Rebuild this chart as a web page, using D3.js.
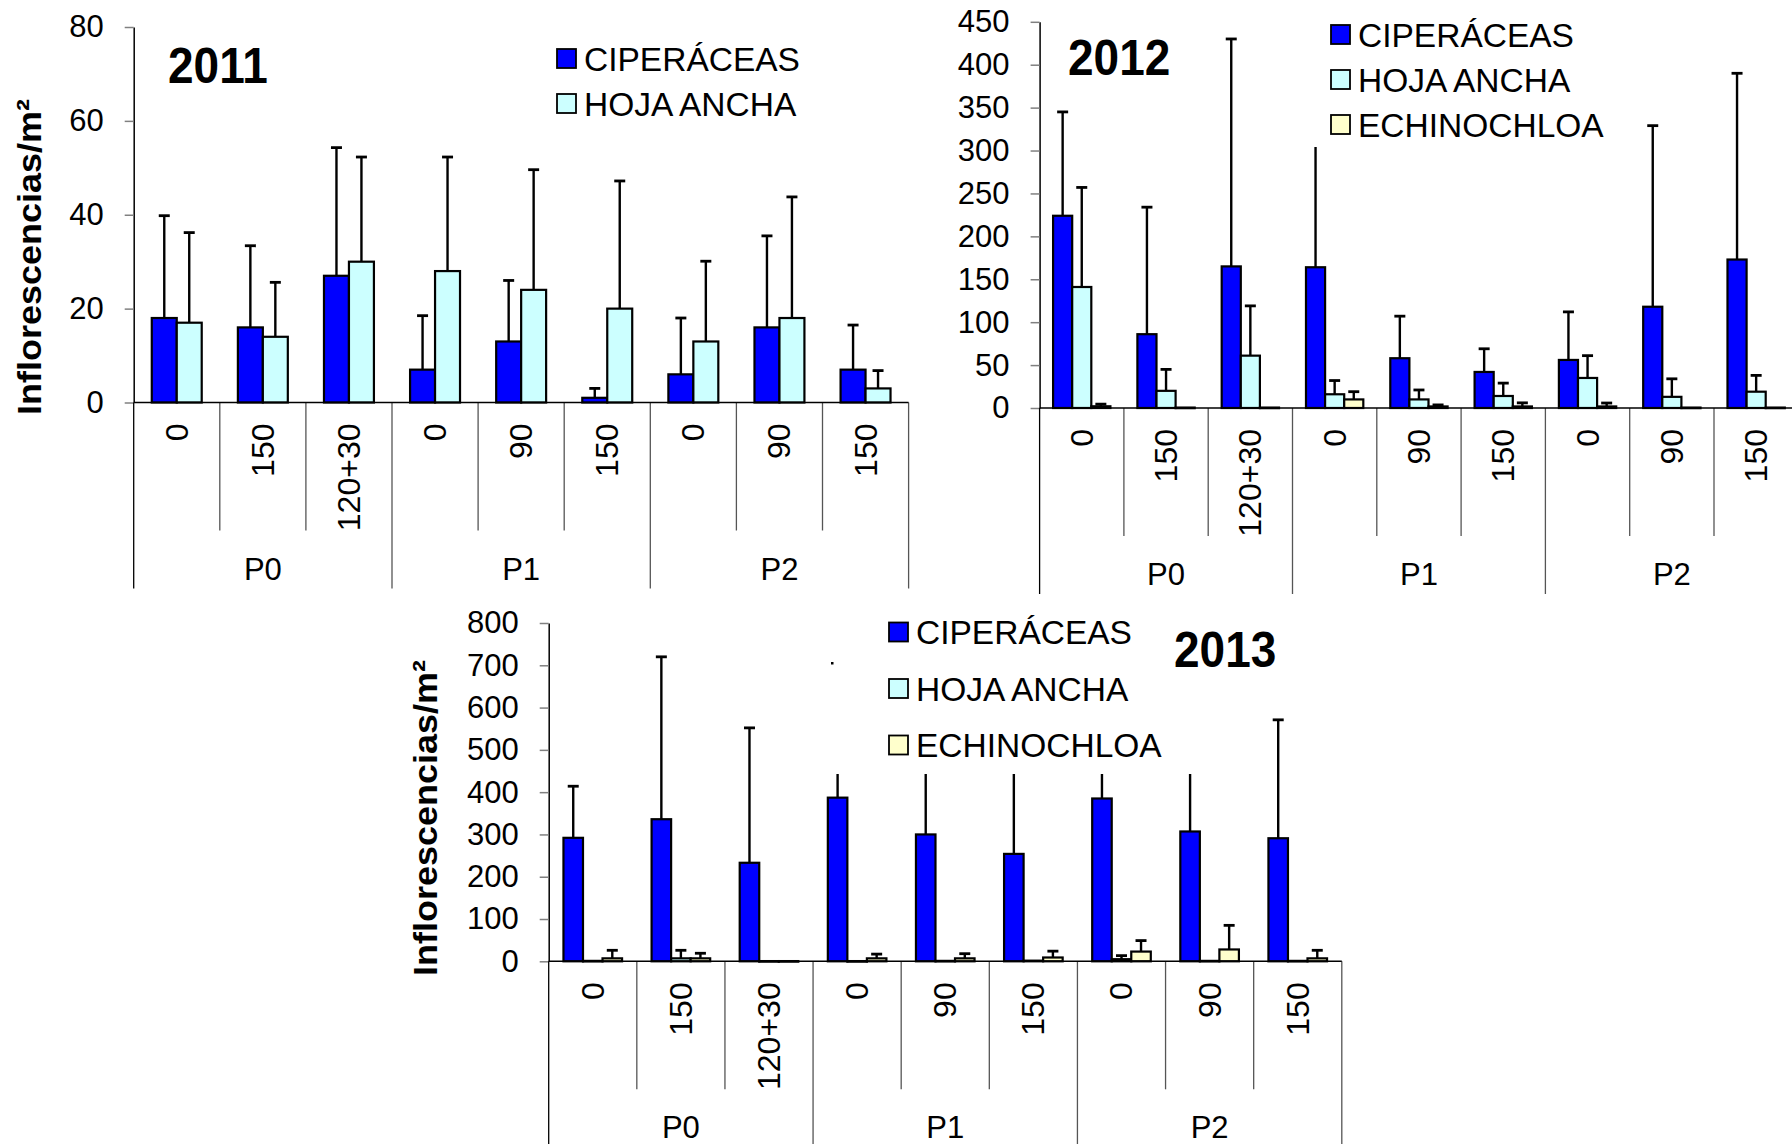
<!DOCTYPE html>
<html>
<head>
<meta charset="utf-8">
<script src="https://cdn.jsdelivr.net/npm/d3@7"></script>
<style>
  body { margin: 0; background: #fff; }
  text { font-family: "Liberation Sans", Arial, sans-serif; fill: #000; }
</style>
</head>
<body>
<svg id="canvas" width="1792" height="1144"></svg>
<script>
// categories (same for all three years)
let categories = ['0', '150', '120+30', '0', '90', '150', '0', '90', '150']
let groups = ['P0', 'P1', 'P2']
let seriesNames = ['CIPERÁCEAS', 'HOJA ANCHA', 'ECHINOCHLOA']
let seriesColors = ['#0000ff', '#ccffff', '#ffffcc']

// 2011 (mean and top of error bar)
let cip2011 = [18, 16, 27, 7, 13, 1, 6, 16, 7]
let cip2011Up = [39.8, 33.4, 54.3, 18.5, 26, 3, 18, 35.5, 16.5]
let ha2011 = [17, 14, 30, 28, 24, 20, 13, 18, 3]
let ha2011Up = [36.2, 25.6, 52.3, 52.3, 49.6, 47.2, 30.1, 43.8, 6.8]

// 2012
let cip2012 = [224, 86, 165, 164, 58, 42, 56, 118, 173]
let cip2012Up = [345, 234, 430, 360, 107, 69, 112, 329, 390]
let ha2012 = [141, 20, 61, 16, 10, 14, 35, 13, 19]
let ha2012Up = [257, 45, 119, 32, 21, 29, 61, 34, 38]
let ech2012 = [2, 0.5, 0.5, 10, 1.8, 1.8, 1.8, 0.5, 0.5]
let ech2012Up = [4.5, 0, 0, 19, 3.6, 6, 5.8, 0, 0]

// 2013
let cip2013 = [292, 336, 233, 387, 300, 254, 385, 307, 291]
let cip2013Up = [414, 720, 552, 560, 520, 600, 550, 500, 571]
let ha2013 = [1, 7, 0.5, 0.5, 1, 1.5, 5, 1, 1]
let ha2013Up = [0, 26, 0, 0, 0, 0, 13.4, 0, 0]
let ech2013 = [7, 7, 0.5, 7, 7, 9, 23, 28, 7]
let ech2013Up = [26, 19, 0, 17, 18, 24, 49, 85, 26]

let svg = d3.select('#canvas')

let drawPanel = (p) => {
  let g = svg.append('g')
  let n = p.series.length

  let x = d3.scaleBand()
    .domain(d3.range(categories.length))
    .range([p.left, p.right])
    .padding(0)
  let inner = d3.scaleBand()
    .domain(d3.range(n))
    .range([0, x.bandwidth()])
    .paddingInner(0)
    .paddingOuter(p.outer)
  let y = d3.scaleLinear().domain([0, p.max]).range([p.bottom, p.top])

  // y axis
  let yAxis = g.append('g')
    .attr('transform', 'translate(' + p.left + ',0)')
    .call(d3.axisLeft(y)
      .tickValues(d3.range(0, p.max + 1, p.step))
      .tickSize(9)
      .tickSizeOuter(0)
      .tickPadding(21))
  yAxis.select('.domain').attr('stroke', '#000').attr('stroke-width', 1.5)
  yAxis.selectAll('.tick line').attr('stroke', '#808080').attr('stroke-width', 1.5)
  yAxis.selectAll('.tick text')
    .attr('font-size', 31)
    .style('font-family', '"Liberation Sans", Arial, sans-serif')
    .attr('fill', '#000')

  // category separators
  let bounds = d3.range(categories.length + 1)
  g.selectAll('.sep')
    .data(bounds)
    .enter()
    .append('line')
    .attr('x1', (i) => p.left + i * x.step())
    .attr('x2', (i) => p.left + i * x.step())
    .attr('y1', p.bottom)
    .attr('y2', (i) => i % 3 === 0 ? p.bottom + 186 : p.bottom + 128)
    .attr('stroke', i => i === 0 ? '#000' : '#555')
    .attr('stroke-width', 1.3)

  // bars
  p.series.forEach((s, si) => {
    g.selectAll('.bar' + si)
      .data(s.values)
      .enter()
      .append('rect')
      .attr('x', (d, i) => x(i) + inner(si))
      .attr('y', (d) => y(d))
      .attr('width', inner.bandwidth())
      .attr('height', (d) => Math.max(0.6, y(0) - y(d)))
      .attr('fill', seriesColors[si])
      .attr('stroke', '#000')
      .attr('stroke-width', 2.2)
  })

  // error bars
  p.series.forEach((s, si) => {
    s.upper.forEach((u, i) => {
      if (u <= s.values[i]) return
      let cx = x(i) + inner(si) + inner.bandwidth() / 2
      g.append('line')
        .attr('x1', cx).attr('x2', cx)
        .attr('y1', y(s.values[i])).attr('y2', y(u))
        .attr('stroke', '#000').attr('stroke-width', 2.4)
      g.append('line')
        .attr('x1', cx - 5.5).attr('x2', cx + 5.5)
        .attr('y1', y(u)).attr('y2', y(u))
        .attr('stroke', '#000').attr('stroke-width', 2.8)
    })
  })

  // x axis line
  g.append('line')
    .attr('x1', p.left).attr('x2', p.right)
    .attr('y1', p.bottom).attr('y2', p.bottom)
    .attr('stroke', '#000').attr('stroke-width', 1.5)

  // category labels
  g.selectAll('.cat')
    .data(categories)
    .enter()
    .append('text')
    .attr('transform', (d, i) => 'translate(' + (x(i) + x.bandwidth() / 2) + ',' + (p.bottom + 21) + ') rotate(-90)')
    .attr('text-anchor', 'end')
    .attr('dominant-baseline', 'central')
    .attr('font-size', 32)
    .text(d => d)

  // group labels
  g.selectAll('.grp')
    .data(groups)
    .enter()
    .append('text')
    .attr('x', (d, i) => p.left + (i * 3 + 1.5) * x.step())
    .attr('y', p.bottom + 177)
    .attr('text-anchor', 'middle')
    .attr('font-size', 31)
    .text(d => d)

  // legend (white box hides what is behind it)
  g.append('rect')
    .attr('x', p.box[0]).attr('y', p.box[1])
    .attr('width', p.box[2]).attr('height', p.box[3])
    .attr('fill', '#fff')
  p.series.forEach((s, si) => {
    let cy = p.legY + si * p.legGap
    g.append('rect')
      .attr('x', p.legX).attr('y', cy - 9.5)
      .attr('width', 19).attr('height', 19)
      .attr('fill', seriesColors[si])
      .attr('stroke', '#000').attr('stroke-width', 1.8)
    g.append('text')
      .attr('x', p.legX + 27).attr('y', cy + 12)
      .attr('font-size', 33.5)
      .text(seriesNames[si])
  })

  // year title
  g.append('text')
    .attr('transform', 'translate(' + p.titleX + ',' + p.titleY + ') scale(0.92,1)')
    .attr('font-size', 50)
    .attr('font-weight', 'bold')
    .text(p.title)

  // y title
  if (p.yTitle) {
    g.append('text')
      .attr('transform', 'translate(' + p.yTitle[0] + ',' + p.yTitle[1] + ') rotate(-90) scale(1,0.92)')
      .attr('text-anchor', 'middle')
      .attr('dominant-baseline', 'central')
      .attr('font-size', 36)
      .attr('font-weight', 'bold')
      .text('Inflorescencias/m²')
  }
}

drawPanel({
  title: '2011', titleX: 168, titleY: 83,
  left: 133.7, right: 908.6, bottom: 402.5, top: 27, max: 80, step: 20, outer: 0.724,
  series: [
    { values: cip2011, upper: cip2011Up },
    { values: ha2011, upper: ha2011Up }
  ],
  box: [548, 38, 270, 88], legX: 557, legY: 58.5, legGap: 45,
  yTitle: [30, 257]
})

drawPanel({
  title: '2012', titleX: 1068, titleY: 75,
  left: 1039.6, right: 1798.3, bottom: 408, top: 21.8, max: 450, step: 50, outer: 0.706,
  series: [
    { values: cip2012, upper: cip2012Up },
    { values: ha2012, upper: ha2012Up },
    { values: ech2012, upper: ech2012Up }
  ],
  box: [1307, 5, 310, 142], legX: 1331, legY: 34.5, legGap: 45
})

drawPanel({
  title: '2013', titleX: 1174, titleY: 667,
  left: 548.7, right: 1341.8, bottom: 961.3, top: 623, max: 800, step: 100, outer: 0.756,
  series: [
    { values: cip2013, upper: cip2013Up },
    { values: ha2013, upper: ha2013Up },
    { values: ech2013, upper: ech2013Up }
  ],
  box: [828, 600, 402, 174], legX: 889, legY: 632, legGap: 56.5,
  yTitle: [426, 818]
})

// stray dot seen in the 2013 panel
svg.append('rect').attr('x', 831).attr('y', 662).attr('width', 2.5).attr('height', 2.5).attr('fill', '#000')
</script>
</body>
</html>
